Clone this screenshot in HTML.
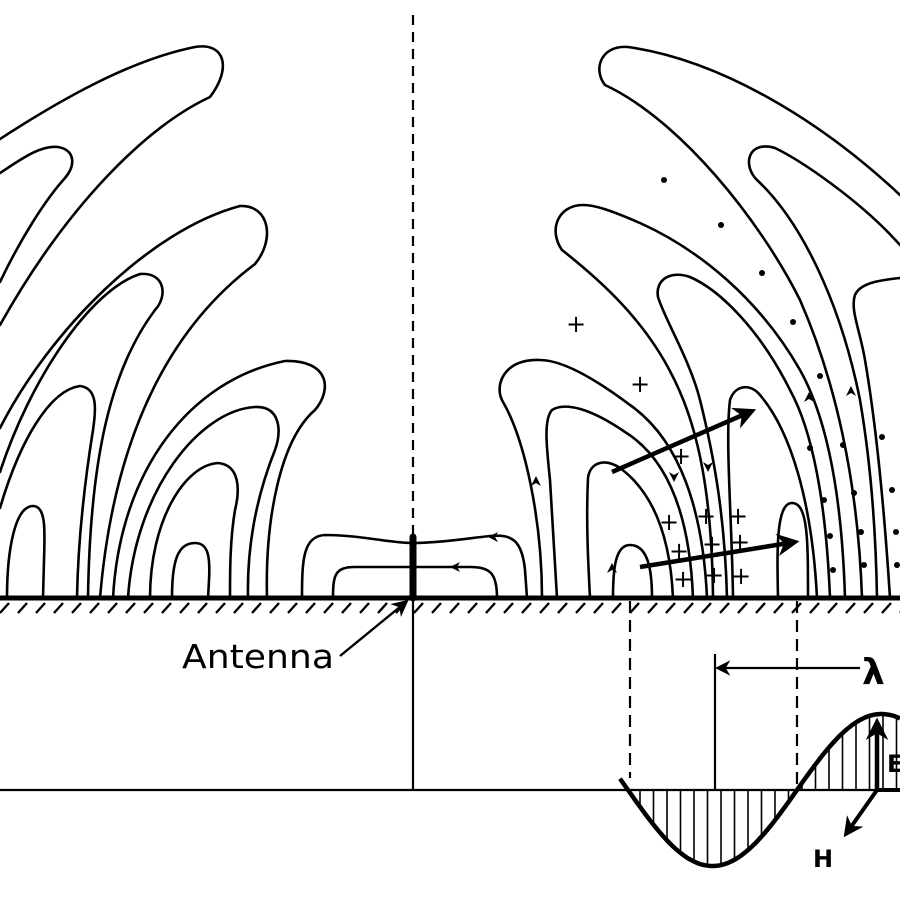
<!DOCTYPE html>
<html><head><meta charset="utf-8"><style>html,body{margin:0;padding:0;background:#fff}svg{display:block}</style></head>
<body>
<svg id="s" width="900" height="900" viewBox="0 0 900 900" xmlns="http://www.w3.org/2000/svg">
<defs>
<marker id="ah" viewBox="0 0 10 10" refX="8" refY="5" markerWidth="7" markerHeight="7" orient="auto-start-reverse"><path d="M0,0 L10,5 L0,10 L3,5 z" fill="#000"/></marker>
<marker id="ahb" viewBox="0 0 10 10" refX="8" refY="5" markerWidth="5" markerHeight="5" orient="auto"><path d="M0,0 L10,5 L0,10 L3,5 z" fill="#000"/></marker>
</defs>
<g fill="none" stroke="#000" stroke-width="2.6" stroke-linecap="round">
<!-- left side loops -->
<path d="M0,139 C60,100 130,60 195,47 C225,42 232,68 210,97 C150,125 70,200 0,325"/>
<path d="M0,173 C20,160 40,145 58,147 C75,150 76,165 65,178 C45,200 20,240 0,282"/>
<path d="M0,428 C50,330 150,230 240,206 C270,205 275,240 255,264 C180,320 115,420 100,598"/>
<path d="M0,472 C30,380 90,290 140,274 C165,272 168,296 155,310 C110,370 90,460 88,598"/>
<path d="M0,508 C20,440 50,390 80,386 C98,388 96,410 93,430 C85,480 78,540 77,598"/>
<path d="M7,598 C7,550 15,506 33,506 C46,506 45,530 44,560 L43,598"/>
<path d="M113,598 C120,470 190,380 285,361 C330,360 332,390 315,410 C280,440 265,520 267,598"/>
<path d="M128,598 C135,490 200,410 255,407 C280,406 282,430 275,450 C255,500 247,550 248,598"/>
<path d="M150,598 C150,520 185,465 218,463 C240,465 240,490 235,510 C230,540 230,570 230,598"/>
<path d="M172,598 C172,560 178,543 195,543 C212,543 210,565 208,598"/>
<!-- near antenna -->
<path d="M302,598 C302,560 303,536 325,535 C360,535 390,543 413,543 C440,543 470,538 490,536 C512,534 522,540 525,570 L527,598"/>
<path d="M333,598 C333,575 335,567 355,567 L413,567 L470,567 C490,567 497,573 497,598"/>
<!-- right side loops -->
<path d="M900,195 C820,120 720,60 628,47 C600,45 593,70 605,85 C680,120 760,220 800,300 C835,380 858,480 862,598"/>
<path d="M900,245 C860,200 800,160 775,148 C748,140 742,165 757,180 C800,220 840,300 860,400 C872,470 876,540 877,598"/>
<path d="M900,278 C880,280 860,283 855,295 C850,310 860,330 865,360 C877,430 885,520 890,598"/>
<path d="M845,598 C842,500 828,420 800,370 C760,300 700,250 640,223 C610,210 595,205 583,205 C558,205 548,230 562,250 C600,280 645,320 673,377 C700,430 712,500 713,598"/>
<path d="M830,598 C826,500 812,430 790,390 C760,330 720,290 690,277 C670,270 655,280 658,297 C665,320 690,360 700,400 C715,460 725,520 727,598"/>
<path d="M707,598 C703,510 680,440 630,405 C590,375 560,360 540,360 C505,358 493,385 503,402 C525,440 542,520 542,598"/>
<path d="M693,598 C690,520 670,460 625,432 C590,408 565,402 552,410 C543,420 547,450 550,480 L557,598"/>
<path d="M673,598 C670,530 650,490 620,468 C605,458 590,462 588,478 C586,520 588,560 590,598"/>
<path d="M613,598 C613,570 615,545 630,545 C648,545 652,570 652,598"/>
<path d="M778,598 C777,550 776,503 792,503 C808,503 808,540 808,598"/>
<path d="M733,598 C732,520 725,440 730,400 C735,385 750,383 760,395 C790,430 812,500 817,598"/>
</g>
<!-- small arrowheads on field lines -->
<g fill="#000">
<path d="M488,537 l10,-5 l-3,5 l3,5 z"/>
<path d="M450,567 l10,-5 l-3,5 l3,5 z"/>
<path d="M536,476 l-5,10 l5,-3 l5,3 z"/>
<path d="M612,563 l-5,10 l5,-3 l5,3 z"/>
<path d="M809,392 l-5,10 l5,-3 l5,3 z"/>
<path d="M851,386 l-5,10 l5,-3 l5,3 z"/>
<path d="M708,472 l-5,-10 l5,3 l5,-3 z"/>
<path d="M674,482 l-5,-10 l5,3 l5,-3 z"/>
</g>
<!-- thick arrows -->
<g stroke="#000" stroke-width="4.5" fill="none">
<line x1="612" y1="472" x2="752" y2="411" marker-end="url(#ahb)"/>
<line x1="640" y1="567" x2="795" y2="542" marker-end="url(#ahb)"/>
</g>
<!-- plus signs -->
<g font-family="DejaVu Sans, Liberation Sans, sans-serif" font-size="24" text-anchor="middle" fill="#000">
<text x="576" y="332">+</text><text x="640" y="392">+</text>
<text x="681" y="464">+</text>
<text x="669" y="530">+</text><text x="706" y="524">+</text><text x="738" y="524">+</text>
<text x="679" y="559">+</text><text x="712" y="552">+</text><text x="740" y="550">+</text>
<text x="683" y="587">+</text><text x="714" y="583">+</text><text x="741" y="584">+</text>
</g>
<!-- dots -->
<g fill="#000">
<circle cx="664" cy="180" r="3"/><circle cx="721" cy="225" r="3"/><circle cx="762" cy="273" r="3"/>
<circle cx="793" cy="322" r="3"/><circle cx="820" cy="376" r="3"/><circle cx="810" cy="448" r="3"/>
<circle cx="843" cy="445" r="3"/><circle cx="882" cy="437" r="3"/><circle cx="824" cy="500" r="3"/>
<circle cx="854" cy="493" r="3"/><circle cx="892" cy="490" r="3"/><circle cx="830" cy="536" r="3"/>
<circle cx="861" cy="532" r="3"/><circle cx="896" cy="532" r="3"/><circle cx="833" cy="570" r="3"/>
<circle cx="864" cy="565" r="3"/><circle cx="897" cy="565" r="3"/>
</g>
<!-- vertical axis & antenna -->
<line x1="413" y1="15" x2="413" y2="540" stroke="#000" stroke-width="2.2" stroke-dasharray="10,7"/>
<line x1="413" y1="598" x2="413" y2="790" stroke="#000" stroke-width="2.2"/>
<line x1="413" y1="537" x2="413" y2="598" stroke="#000" stroke-width="7" stroke-linecap="round"/>
<!-- ground -->
<line x1="0" y1="598" x2="900" y2="598" stroke="#000" stroke-width="5"/>
<g id="hatch" stroke="#000" stroke-width="2.4"></g>
<!-- lower part -->
<line x1="0" y1="790" x2="900" y2="790" stroke="#000" stroke-width="2.2"/>
<line x1="630" y1="601" x2="630" y2="778" stroke="#000" stroke-width="2.2" stroke-dasharray="12,7"/>
<line x1="797" y1="601" x2="797" y2="785" stroke="#000" stroke-width="2.2" stroke-dasharray="12,7"/>
<line x1="715" y1="654" x2="715" y2="790" stroke="#000" stroke-width="2.2"/>
<line x1="860" y1="668" x2="718" y2="668" stroke="#000" stroke-width="2.2" marker-end="url(#ah)"/>
<text x="862" y="684" font-family="DejaVu Sans, Liberation Sans, sans-serif" font-size="36" font-weight="bold">λ</text>
<g id="vh" stroke="#000" stroke-width="1.6"></g>
<path id="sine" fill="none" stroke="#000" stroke-width="4.5"/>
<line x1="877" y1="790" x2="877" y2="722" stroke="#000" stroke-width="4.5" marker-end="url(#ahb)"/>
<line x1="877" y1="790" x2="900" y2="790" stroke="#000" stroke-width="4"/>
<line x1="877" y1="790" x2="846" y2="834" stroke="#000" stroke-width="4" marker-end="url(#ahb)"/>
<text x="887" y="772" font-family="DejaVu Sans, Liberation Sans, sans-serif" font-size="24" font-weight="bold">E</text>
<text x="813" y="867" font-family="DejaVu Sans, Liberation Sans, sans-serif" font-size="24" font-weight="bold">H</text>
<text x="182" y="668" font-family="DejaVu Sans, Liberation Sans, sans-serif" font-size="33" textLength="152" lengthAdjust="spacingAndGlyphs">Antenna</text>
<line x1="340" y1="656" x2="406" y2="602" stroke="#000" stroke-width="2.4" marker-end="url(#ah)"/>
</svg>
<script>
var NS="http://www.w3.org/2000/svg";
var h=document.getElementById('hatch');
for(var x=0;x<910;x+=18){var l=document.createElementNS(NS,'line');l.setAttribute('x1',x);l.setAttribute('y1',613);l.setAttribute('x2',x+9);l.setAttribute('y2',603);h.appendChild(l);}
function f(x){return 790+76*Math.sin(2*Math.PI*(x-628)/338);}
var d="";for(var x=620;x<=900;x+=2){d+=(x==620?"M":"L")+x+","+f(x).toFixed(1)+" ";}
document.getElementById('sine').setAttribute('d',d);
var v=document.getElementById('vh');
for(var x=640;x<900;x+=13.5){if(Math.abs(x-797)<5)continue;var l=document.createElementNS(NS,'line');l.setAttribute('x1',x);l.setAttribute('y1',790);l.setAttribute('x2',x);l.setAttribute('y2',f(x));v.appendChild(l);}
</script>
</body></html>
